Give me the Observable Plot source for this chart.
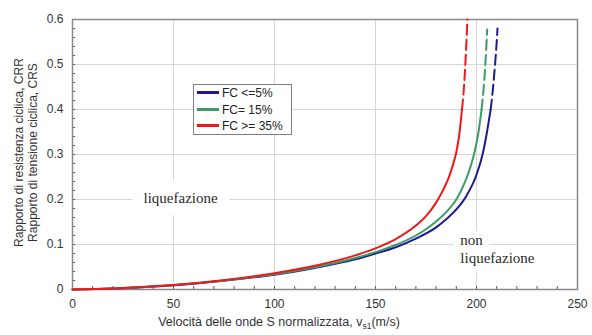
<!DOCTYPE html>
<html>
<head>
<meta charset="utf-8">
<script src="https://cdn.jsdelivr.net/npm/d3@7"></script>
<script src="https://cdn.jsdelivr.net/npm/@observablehq/plot@0.6"></script>
<style>
  html, body { margin: 0; padding: 0; background: #fff; }
  #wrap { position: relative; width: 592px; height: 335px; font-family: "Liberation Sans", Arial, sans-serif; }
  #legend { position: absolute; left: 193px; top: 84px; width: 99px; height: 51px; border: 1px solid #7f7f7f; background: #fff; box-sizing: border-box; padding-top: 0px; }
  #legend .row { height: 16.5px; line-height: 16.5px; font-size: 12px; color: #222; white-space: nowrap; }
  #legend .sw { display: inline-block; width: 22px; height: 3px; margin-left: 3px; margin-right: 3px; vertical-align: middle; position: relative; top: -1px; }
</style>
</head>
<body>
<div id="wrap"></div>
<script>
// ---- data ----
const seriesNames = ["FC <=5%", "FC= 15%", "FC >= 35%"];
const seriesColors = ["#1b1b8f", "#3b9a68", "#f01818"];

const vBlue   = [0, 20, 40, 60, 80, 100, 120, 140, 150, 160, 170, 180, 185, 190, 195, 200, 203, 205, 207, 208, 209, 210, 210.4];
const crrBlue = [0, 0.002, 0.0065, 0.013, 0.022, 0.033, 0.048, 0.067, 0.080, 0.094, 0.113, 0.138, 0.156, 0.178, 0.208, 0.255, 0.300, 0.345, 0.40, 0.44, 0.49, 0.55, 0.58];

const vGreen   = [0, 20, 40, 60, 80, 100, 120, 140, 150, 160, 170, 175, 180, 185, 190, 193, 196, 199, 201, 202.5, 203.5, 204.5, 205.3];
const crrGreen = [0, 0.0023, 0.0067, 0.0133, 0.0223, 0.034, 0.0495, 0.070, 0.083, 0.099, 0.120, 0.134, 0.151, 0.172, 0.200, 0.226, 0.259, 0.305, 0.35, 0.40, 0.445, 0.51, 0.578];

const vRed   = [0, 20, 40, 60, 80, 100, 120, 140, 150, 160, 170, 175, 180, 183, 186, 188, 190, 191.5, 192.8, 193.8, 194.7, 195.5];
const crrRed = [0, 0.0024, 0.007, 0.014, 0.0234, 0.036, 0.0527, 0.0758, 0.0915, 0.112, 0.142, 0.163, 0.193, 0.217, 0.246, 0.272, 0.305, 0.345, 0.40, 0.45, 0.52, 0.60];

const dashFrom = 0.40; // curves drawn dashed above this CRR

const xTicks = [0, 50, 100, 150, 200, 250];
const xTickLabels = ["0", "50", "100", "150", "200", "250"];
const yTicks = [0, 0.1, 0.2, 0.3, 0.4, 0.5, 0.6];
const yTickLabels = ["0", "0.1", "0.2", "0.3", "0.4", "0.5", "0.6"];
const xMinor = d3.range(0, 251, 10);
const yMinor = d3.range(0, 0.601, 0.02);

const xTitle = "Velocità delle onde S normalizzata, v";
const yTitle = "Rapporto di resistenza ciclica, CRR\nRapporto di tensione ciclica, CRS";

const annLabels = ["liquefazione", "non\nliquefazione"];
const annX = [53.5, 192];
const annY = [0.204, 0.092];

// ---- build table ----
const curves = [[vBlue, crrBlue], [vGreen, crrGreen], [vRed, crrRed]];
const rows = [];
curves.forEach(([vs, cs], i) => {
  vs.forEach((v, j) => {
    const c = cs[j];
    if (c <= dashFrom) rows.push({series: seriesNames[i], part: "solid", v, crr: c});
    if (c >= dashFrom) rows.push({series: seriesNames[i], part: "dashed", v, crr: c});
  });
});
const ann = annLabels.map((t, i) => ({t, x: annX[i], y: annY[i]}));

const font = "Liberation Sans, Arial, sans-serif";

const chart = Plot.plot({
  width: 592,
  height: 335,
  marginLeft: 72,
  marginRight: 15,
  marginTop: 19,
  marginBottom: 46,
  style: {fontFamily: font, background: "#fff", color: "#333"},
  x: {domain: [0, 250]},
  y: {domain: [0, 0.6]},
  color: {domain: seriesNames, range: seriesColors},
  marks: [
    Plot.gridX(xTicks.slice(1, -1), {stroke: "#d6d6d6", strokeOpacity: 1}),
    Plot.gridY(yTicks.slice(1, -1), {stroke: "#d6d6d6", strokeOpacity: 1}),
    Plot.text(ann.slice(0, 1), {x: "x", y: "y", text: "t", textAnchor: "middle", fontFamily: "Liberation Serif, Times New Roman, serif", fontSize: 15, fill: "#2a2a2a", stroke: "white", strokeWidth: 24}),
    Plot.text(ann.slice(1), {x: "x", y: "y", text: "t", textAnchor: "start", lineHeight: 1.2, fontFamily: "Liberation Serif, Times New Roman, serif", fontSize: 15, fill: "#2a2a2a", stroke: "white", strokeWidth: 14}),
    Plot.axisX(xMinor, {tickSize: -3, tickFormat: () => "", stroke: "#555"}),
    Plot.axisY(yMinor, {tickSize: -3, tickFormat: () => "", stroke: "#555"}),
    Plot.axisX(xTicks, {tickSize: 0, tickPadding: 10, fontSize: 12, fill: "#333", tickFormat: (d) => xTickLabels[xTicks.indexOf(d)], label: null}),
    Plot.axisY(yTicks, {tickSize: 0, tickPadding: 9, fontSize: 12, fill: "#333", tickFormat: (d) => yTickLabels[yTicks.indexOf(d)], label: null}),
    Plot.text([yTitle], {frameAnchor: "left", textAnchor: "middle", lineAnchor: "middle", dx: -47, dy: -2, rotate: -90, lineHeight: 1.2, fontSize: 12, fill: "#333", text: (d) => d}),
    Plot.text([xTitle], {frameAnchor: "bottom", textAnchor: "middle", dy: 36, dx: -46, fontSize: 12.5, fill: "#333", text: (d) => d, className: "xtitle"}),
    Plot.frame({stroke: "#8a8a8a", strokeWidth: 1.5}),
    Plot.line(rows.filter(d => d.part === "solid"), {x: "v", y: "crr", z: "series", stroke: "series", strokeWidth: 2, curve: "monotone-x"}),
    Plot.line(rows.filter(d => d.part === "dashed"), {x: "v", y: "crr", z: "series", stroke: "series", strokeWidth: 2, strokeDasharray: "10,5", curve: "monotone-x"})
  ]
});

// subscript on x title
d3.select(chart).selectAll("g.xtitle text").each(function () {
  const t = d3.select(this);
  const txt = t.text();
  t.text(null);
  t.append("tspan").text(txt);
  t.append("tspan").attr("font-size", "8.5px").attr("dy", "3").text("s1");
  t.append("tspan").attr("dy", "-3").text("(m/s)");
});

const wrap = document.getElementById("wrap");
wrap.appendChild(chart);

const legend = document.createElement("div");
legend.id = "legend";
seriesNames.forEach((name, i) => {
  const row = document.createElement("div");
  row.className = "row";
  const sw = document.createElement("span");
  sw.className = "sw";
  sw.style.background = seriesColors[i];
  row.appendChild(sw);
  row.appendChild(document.createTextNode(name));
  legend.appendChild(row);
});
wrap.appendChild(legend);
</script>
</body>
</html>
